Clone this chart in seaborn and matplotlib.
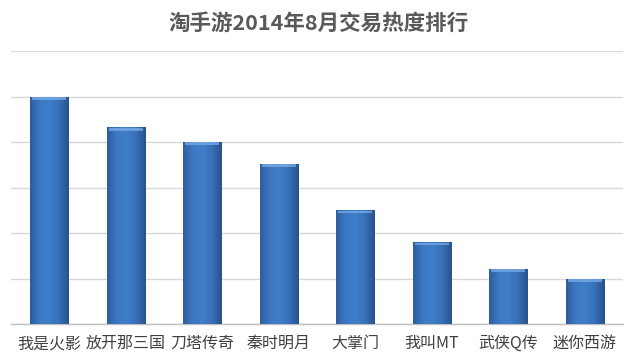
import numpy as np
import pandas as pd
import matplotlib
matplotlib.use("Agg")
import matplotlib.pyplot as plt
import seaborn as sns
from matplotlib.colors import LinearSegmentedColormap

categories = ["我是火影", "放开那三国", "刀塔传奇", "秦时明月", "大掌门", "我叫MT", "武侠Q传", "迷你西游"]
values = [5.0, 4.32, 4.0, 3.52, 2.5, 1.8, 1.21, 0.99]
title = "淘手游2014年8月交易热度排行"

sns.set_theme(style="white")
plt.rcParams['font.family'] = ['Noto Sans CJK SC', 'DejaVu Sans']

df = pd.DataFrame({"game": categories, "value": values})

fig = plt.figure(figsize=(6.37, 3.56), dpi=100)
ax = fig.add_axes([11 / 637, (356 - 324) / 356, 612 / 637, (324 - 51) / 356])

sns.barplot(data=df, x="game", y="value", color="#3B75C2", width=0.5,
            edgecolor="#2A5590", linewidth=0.6, ax=ax, zorder=3)

ax.set_ylim(0, 6)
ax.set_xlim(-0.5, len(categories) - 0.5)
ax.set_yticks(np.arange(0, 7, 1))
ax.set_yticklabels([])
ax.yaxis.grid(True, color="#d9d9d9", linewidth=1, zorder=0)
ax.tick_params(axis="y", length=0)
ax.set_xlabel("")
ax.set_ylabel("")
for s in ["top", "right", "left"]:
    ax.spines[s].set_visible(False)
ax.spines["bottom"].set_color("#bfbfbf")
ax.spines["bottom"].set_linewidth(1)
ax.set_xticks(np.arange(-0.5, len(categories) + 0.5, 1), minor=True)
ax.tick_params(axis="x", which="minor", length=5, color="#bfbfbf", width=1)
ax.tick_params(axis="x", which="major", length=0, pad=8, labelsize=11.5, labelcolor="#404040")

# gradient fill clipped to each bar
cmap = LinearSegmentedColormap.from_list("g", ["#2E5E9E", "#3E7CCB", "#4386D6", "#3E7CCB", "#2E5E9E"])
grad = np.tile(np.linspace(0, 1, 64), (64, 1))
vshade = np.linspace(0.0, 0.12, 64)[:, None]
for p in ax.patches:
    x0, y0 = p.get_x(), p.get_y()
    w, h = p.get_width(), p.get_height()
    rgba = cmap(grad)
    rgba[..., :3] = np.clip(rgba[..., :3] * (1 - vshade), 0, 1)
    im = ax.imshow(rgba, extent=[x0, x0 + w, y0, y0 + h], aspect="auto",
                   origin="lower", zorder=3.5, interpolation="bilinear")
    im.set_clip_path(p)
    # light top bevel
    ax.fill_between([x0 + w * 0.06, x0 + w * 0.94], y0 + h - 0.07, y0 + h - 0.01,
                    color="#7FB0EA", alpha=0.7, zorder=3.6, linewidth=0)
ax.set_xlim(-0.5, len(categories) - 0.5)
ax.set_ylim(0, 6)

fig.text(0.5, 1 - 23 / 356, title, ha="center", va="center", fontsize=15.5,
         fontweight="bold", color="#595959")

fig.savefig("out.png", dpi=100)
